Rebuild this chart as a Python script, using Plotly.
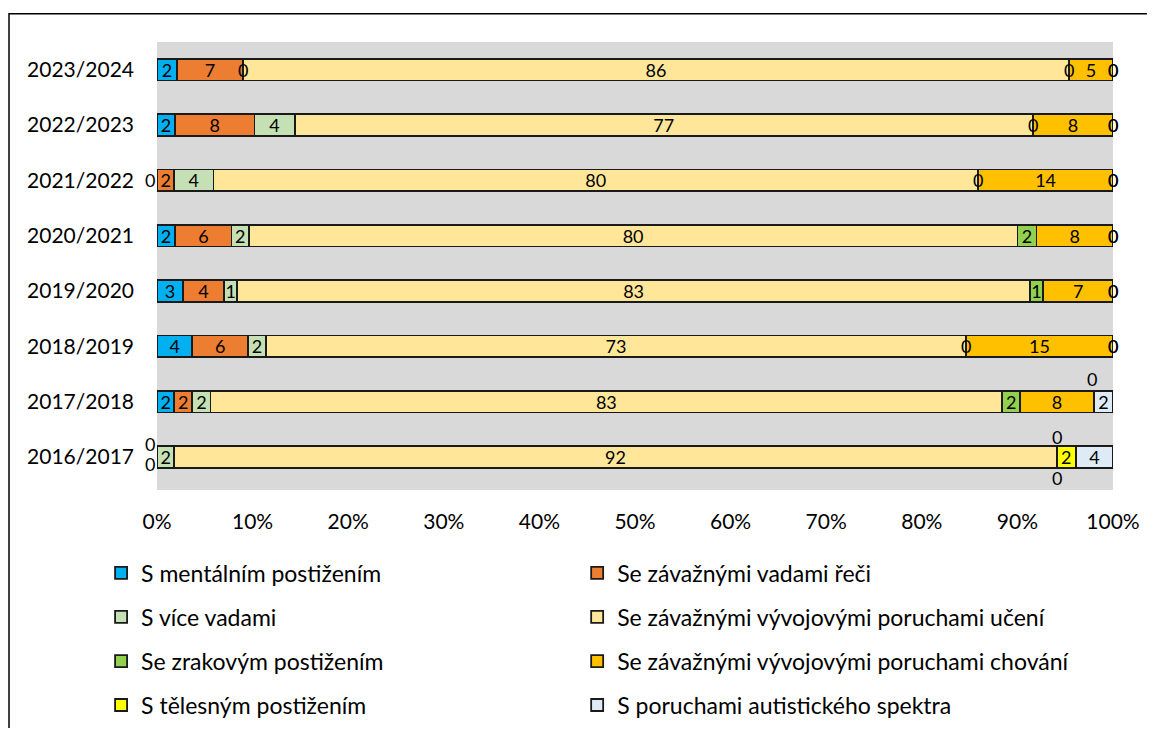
import plotly.graph_objects as go

# školní roky (shora dolů)
roky = ["2023/2024", "2022/2023", "2021/2022", "2020/2021",
        "2019/2020", "2018/2019", "2017/2018", "2016/2017"]

# podíly v % podle skupin postižení
mentalni = [2.1, 1.9, 0.0, 1.9, 2.7, 3.7, 1.8, 0.0]
vady_reci = [6.9, 8.3, 1.8, 5.9, 4.3, 5.8, 1.9, 0.0]
vice_vad = [0.0, 4.2, 4.1, 1.8, 1.4, 1.9, 1.9, 1.8]
uceni = [86.4, 77.2, 80.0, 80.4, 82.9, 73.2, 82.8, 92.3]
zrakove = [0.0, 0.0, 0.0, 2.0, 1.4, 0.0, 1.9, 0.0]
chovani = [4.6, 8.4, 14.1, 8.0, 7.3, 15.4, 7.7, 0.0]
telesne = [0.0, 0.0, 0.0, 0.0, 0.0, 0.0, 0.0, 2.0]
autismus = [0.0, 0.0, 0.0, 0.0, 0.0, 0.0, 2.0, 3.9]

nazvy = ["S mentálním postižením", "Se závažnými vadami řeči",
         "S více vadami", "Se závažnými vývojovými poruchami učení",
         "Se zrakovým postižením", "Se závažnými vývojovými poruchami chování",
         "S tělesným postižením", "S poruchami autistického spektra"]
serie = [mentalni, vady_reci, vice_vad, uceni, zrakove, chovani, telesne, autismus]
barvy = ["#00B0F0", "#ED7D31", "#C5E0B4", "#FFE699",
         "#92D050", "#FFC000", "#FFFF00", "#DEEBF7"]

osa_x = [0, 10, 20, 30, 40, 50, 60, 70, 80, 90, 100]

# posun popisků nul, aby se nepřekrývaly (rok, index série) -> (dx, dy)
posun_nul = {
    ("2021/2022", 0): (-7, 0),
    ("2016/2017", 0): (-7, 13),
    ("2016/2017", 1): (-7, -7),
    ("2016/2017", 4): (0, 20),
    ("2016/2017", 5): (0, -21),
    ("2017/2018", 6): (-2, 23),
}

FONT = "Lato"
fig = go.Figure()

for i, (nazev, hodnoty, barva) in enumerate(zip(nazvy, serie, barvy)):
    fig.add_trace(go.Bar(
        y=roky, x=hodnoty, name=nazev, orientation="h",
        marker=dict(color=barva, line=dict(color="#1a1a1a", width=1.8)),
        text=[f"{v:.0f}" if v > 0 else "" for v in hodnoty],
        texttemplate="%{text}", textposition="inside", insidetextanchor="middle",
        textangle=0, constraintext="none",
        insidetextfont=dict(family=FONT, size=18, color="#000000"),
        legend="legend" if i == 0 else f"legend{i + 1}",
        hoverinfo="name+x",
    ))

# popisky nulových hodnot
for r, rok in enumerate(roky):
    kumul = 0.0
    for i, hodnoty in enumerate(serie):
        v = hodnoty[r]
        if v == 0:
            dx, dy = posun_nul.get((rok, i), (0, 0))
            fig.add_annotation(x=min(round(kumul, 6), 100), y=rok, text="0",
                               showarrow=False, xshift=dx, yshift=dy,
                               font=dict(family=FONT, size=18, color="#000000"))
        kumul += v

fig.update_layout(
    width=1139, height=720,
    margin=dict(l=149, r=34, t=34, b=238, autoexpand=False),
    barmode="stack", bargap=0.61,
    plot_bgcolor="#D9D9D9", paper_bgcolor="#FFFFFF",
    font=dict(family=FONT, size=21, color="#000000"),
    showlegend=True,
    shapes=[dict(type="rect", xref="paper", yref="paper",
                 x0=-0.1548, x1=1.2, y0=-0.7, y1=1.063,
                 line=dict(color="#000000", width=1.5), layer="below")],
)

# legenda ve dvou sloupcích, čtyři řádky
leg_x = [-0.0585, 0.4395]
leg_y = [-0.185, -0.2835, -0.382, -0.48]
for i in range(len(nazvy)):
    key = "legend" if i == 0 else f"legend{i + 1}"
    fig.update_layout({key: dict(
        orientation="v", x=leg_x[i % 2], xanchor="left",
        y=leg_y[i // 2], yanchor="middle", itemwidth=30,
        bgcolor="rgba(0,0,0,0)", font=dict(family=FONT, size=23, color="#000000"),
    )})

fig.update_xaxes(range=[0, 100], tickmode="array", tickvals=osa_x,
                 ticktext=[f"{v}%" for v in osa_x],
                 showgrid=False, zeroline=False, showline=False,
                 ticks="", ticklabelstandoff=17, automargin=False,
                 tickfont=dict(family=FONT, size=21))
fig.update_yaxes(categoryorder="array", categoryarray=roky, autorange="reversed",
                 showgrid=False, showline=False, ticks="", ticklabelstandoff=22,
                 automargin=False, tickfont=dict(family=FONT, size=21))

fig.write_html("out.html")
